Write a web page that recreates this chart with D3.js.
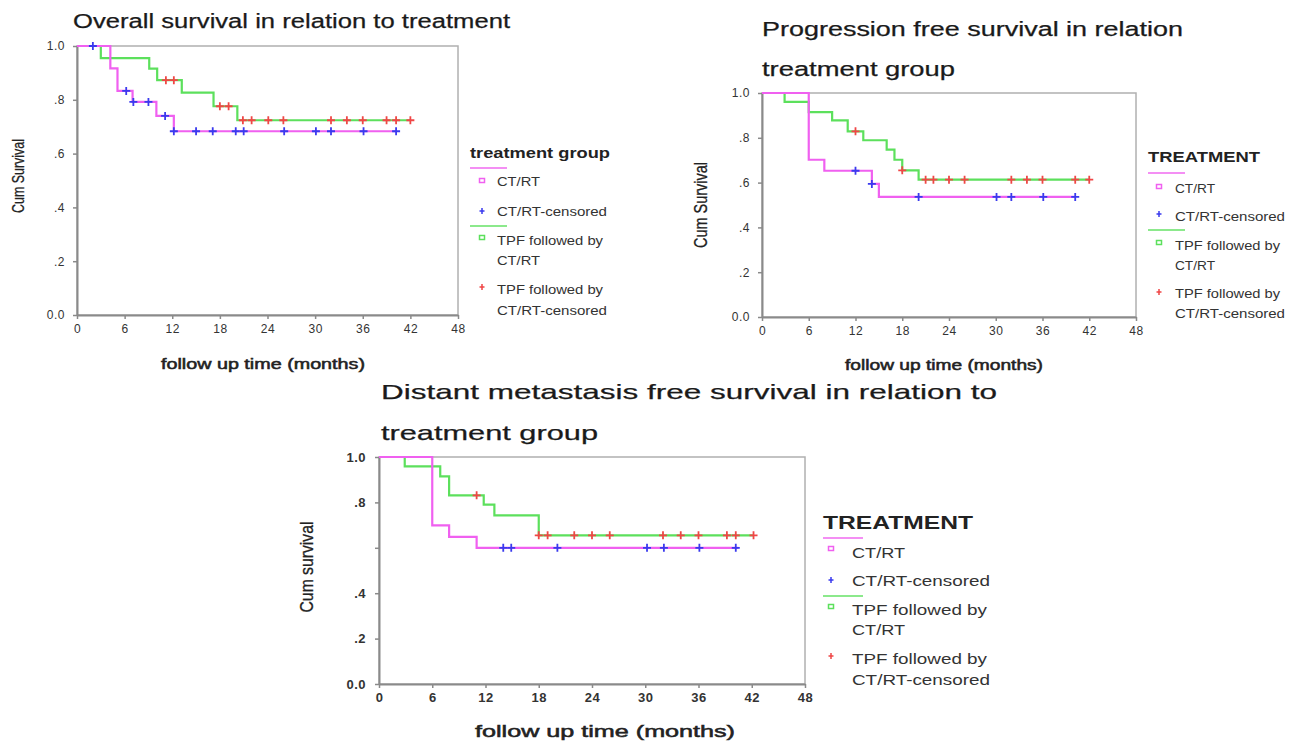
<!DOCTYPE html>
<html>
<head>
<meta charset="utf-8">
<script src="https://cdn.jsdelivr.net/npm/d3@7"></script>
<style>
  body { margin: 0; background: #fff; }
  svg { display: block; }
  text { font-family: "Liberation Sans", Arial, sans-serif; }
</style>
</head>
<body>
<svg id="chart" width="1294" height="745"></svg>
<script>
// --- tick values and labels ---
const xTicks = [0, 6, 12, 18, 24, 30, 36, 42, 48];
const yTicks = [0, 0.2, 0.4, 0.6, 0.8, 1.0];
const yTickLabels = ["0.0", ".2", ".4", ".6", ".8", "1.0"];
const yTickLabelsDm = ["0.0", ".2", ".4", "", ".8", "1.0"]; // .6 label missing in the original

const legendLabels = ["CT/RT", "CT/RT-censored", "TPF followed by", "CT/RT", "TPF followed by", "CT/RT-censored"];

// --- overall survival: [month, cum survival] step points ---
const osCtrtSteps = [[0, 1], [4.2, 0.917], [5.1, 0.833], [7, 0.792], [10, 0.74], [12.2, 0.683], [40.2, 0.683]];
const osCtrtCensored = [2, 6.2, 7.1, 9, 11.1, 12.2, 15, 17.1, 20, 21, 26.1, 30.1, 32, 36.1, 40.2];
const osTpfSteps = [[0, 1], [3, 0.955], [9.1, 0.916], [10.1, 0.873], [13.2, 0.827], [17.2, 0.776], [20.2, 0.724], [42, 0.724]];
const osTpfCensored = [11.2, 12.2, 18, 19.1, 20.9, 22, 24.1, 26, 32, 34, 36, 39, 40.2, 42];

// --- progression free survival ---
const pfsCtrtSteps = [[0, 1], [6, 0.702], [8, 0.653], [14.1, 0.594], [15, 0.536], [40.2, 0.536]];
const pfsCtrtCensored = [12, 14.1, 20.1, 30.1, 32, 36.1, 40.2];
const pfsTpfSteps = [[0, 1], [2.9, 0.96], [6, 0.915], [9, 0.878], [11, 0.829], [13, 0.789], [16, 0.747], [17, 0.702], [18, 0.655], [20.1, 0.613], [42, 0.613]];
const pfsTpfCensored = [12, 18, 21, 22, 24, 26, 32, 34, 36, 40.2, 42];

// --- distant metastasis free survival ---
const dmCtrtSteps = [[0, 1], [6, 0.699], [7.9, 0.648], [11, 0.6], [40.5, 0.6]];
const dmCtrtCensored = [14, 14.9, 20.1, 30.2, 32.1, 36.1, 40.2];
const dmTpfSteps = [[0, 1], [2.9, 0.959], [6.9, 0.915], [7.9, 0.831], [11.8, 0.79], [13, 0.743], [18, 0.655], [42.2, 0.655]];
const dmTpfCensored = [11, 18, 19, 22, 24, 26, 32, 34, 36, 39.2, 40.2, 42.2];

const colors = { ctrt: '#f060f0', tpf: '#5ce05c', ctrtCens: '#3a3aee', tpfCens: '#f04646', axis: '#8a8a8a', border: '#b0b0b0' };

const svg = d3.select('#chart');

function survAt(steps, t) {
    let v = steps[0][1];
    for (const [tt, s] of steps) if (tt <= t + 1e-9) v = s;
    return v;
}

function fitText(sel, w) {
    if (w) sel.attr('textLength', w).attr('lengthAdjust', 'spacingAndGlyphs');
    return sel;
}

function drawPanel(p) {
    const g = svg.append('g');
    const { x0, x1, yTop, yBot } = p.box;
    const x = d3.scaleLinear().domain([0, 48]).range([x0, x1]);
    const y = d3.scaleLinear().domain([0, 1]).range([yBot, yTop]);

    // frame
    g.append('rect')
        .attr('x', x0).attr('y', yTop).attr('width', x1 - x0).attr('height', yBot - yTop)
        .attr('fill', 'none').attr('stroke', colors.border).attr('stroke-width', 1.5);

    // axes
    g.append('g').attr('class', 'axis')
        .attr('transform', `translate(${x0},0)`)
        .call(d3.axisLeft(y).tickValues(yTicks).tickFormat((d, i) => p.yTickText[i])
            .tickSize(4).tickSizeOuter(0).tickPadding(p.yPad));
    g.append('g').attr('class', 'axis')
        .attr('transform', `translate(0,${yBot})`)
        .call(d3.axisBottom(x).tickValues(xTicks).tickSize(4).tickSizeOuter(0).tickPadding(p.xPad));
    g.selectAll('.axis .domain').attr('stroke', colors.axis).attr('stroke-width', 2);
    g.selectAll('.axis .tick line').attr('stroke', colors.axis).attr('stroke-width', 1.5);
    g.selectAll('.axis .tick text')
        .attr('fill', '#333')
        .style('font-size', p.tickSize + 'px')
        .style('font-weight', p.tickWeight)
        .style('font-family', '"Liberation Sans", Arial, sans-serif')
        .style('letter-spacing', p.tickSpacing + 'px');

    // survival curves
    const line = d3.line().x(d => x(d[0])).y(d => y(d[1])).curve(d3.curveStepAfter);
    g.append('path').attr('d', line(p.tpfSteps))
        .attr('fill', 'none').attr('stroke', colors.tpf).attr('stroke-width', 2.2);
    g.append('path').attr('d', line(p.ctrtSteps))
        .attr('fill', 'none').attr('stroke', colors.ctrt).attr('stroke-width', 2.2);

    // censored marks
    const plus = 'M-4,0H4M0,-4V4';
    g.selectAll('.cc').data(p.ctrtCensored).join('path')
        .attr('d', plus).attr('transform', d => `translate(${x(d)},${y(survAt(p.ctrtSteps, d))})`)
        .attr('stroke', colors.ctrtCens).attr('stroke-width', 1.8).attr('fill', 'none');
    g.selectAll('.tc').data(p.tpfCensored).join('path')
        .attr('d', plus).attr('transform', d => `translate(${x(d)},${y(survAt(p.tpfSteps, d))})`)
        .attr('stroke', colors.tpfCens).attr('stroke-width', 1.8).attr('fill', 'none');

    // titles
    p.titles.forEach(t => {
        fitText(g.append('text').attr('x', t.x).attr('y', t.y)
            .attr('fill', '#1a1a1a').attr('stroke', '#1a1a1a').attr('stroke-width', 0.25)
            .style('font-size', t.size + 'px').text(t.text), t.w);
    });

    // y axis title (condensed)
    fitText(g.append('text')
        .attr('transform', `translate(${p.yLabel.cx},${p.yLabel.cy}) rotate(-90)`)
        .attr('text-anchor', 'middle').attr('fill', '#222').attr('stroke', '#222').attr('stroke-width', 0.3)
        .style('font-size', p.yLabel.size + 'px').text(p.yLabel.text), p.yLabel.w);

    // x axis title
    fitText(g.append('text').attr('x', p.xLabel.x).attr('y', p.xLabel.y)
        .attr('fill', '#222').attr('stroke', '#222').attr('stroke-width', 0.5)
        .style('font-size', p.xLabel.size + 'px')
        .text('follow up time (months)'), p.xLabel.w);

    // legend
    const L = p.legend;
    fitText(g.append('text').attr('x', L.x).attr('y', L.titleY)
        .attr('fill', '#222').style('font-size', L.titleSize + 'px').style('font-weight', 'bold')
        .text(L.title), L.titleW);
    [[L.line1, colors.ctrt], [L.line2, colors.tpf]].forEach(([ly, c]) => {
        g.append('line').attr('x1', L.x).attr('x2', L.x + L.lineLen).attr('y1', ly).attr('y2', ly)
            .attr('stroke', c).attr('stroke-width', 2).attr('opacity', 0.7);
    });
    [[L.sq1, colors.ctrt], [L.sq2, colors.tpf]].forEach(([sy, c]) => {
        g.append('rect').attr('x', L.mx - 2.5).attr('y', sy - 2.5).attr('width', 5).attr('height', 4)
            .attr('fill', 'none').attr('stroke', c).attr('stroke-width', 1.5);
    });
    [[L.plus1, colors.ctrtCens], [L.plus2, colors.tpfCens]].forEach(([py, c]) => {
        g.append('path').attr('d', 'M-2.5,0H2.5M0,-3V3').attr('transform', `translate(${L.mx},${py})`)
            .attr('stroke', c).attr('stroke-width', 1.5);
    });
    legendLabels.forEach((s, i) => {
        fitText(g.append('text').attr('x', L.tx).attr('y', L.textY[i])
            .attr('fill', '#333').style('font-size', L.size + 'px').text(s), L.widths[i]);
    });
}

const panels = [
    {
        box: { x0: 77, x1: 458, yTop: 46, yBot: 315 },
        ctrtSteps: osCtrtSteps, ctrtCensored: osCtrtCensored,
        tpfSteps: osTpfSteps, tpfCensored: osTpfCensored,
        yTickText: yTickLabels, yPad: 8, xPad: 5, tickSize: 12, tickWeight: 'normal', tickSpacing: 0.5,
        titles: [{ text: 'Overall survival in relation to treatment', x: 73, y: 28, size: 20, w: 437 }],
        yLabel: { text: 'Cum Survival', cx: 24, cy: 176, size: 17, w: 74 },
        xLabel: { x: 161, y: 369, size: 14, w: 204 },
        legend: {
            title: 'treatment group', x: 470, titleY: 158, titleSize: 15, titleW: 140,
            lineLen: 37, line1: 168, line2: 226, mx: 482, sq1: 181, sq2: 238, plus1: 211, plus2: 287,
            tx: 497, size: 13, textY: [186, 216, 245, 265, 294, 315], widths: [43, 110, 106, 43, 106, 110]
        }
    },
    {
        box: { x0: 762, x1: 1136, yTop: 93, yBot: 317 },
        ctrtSteps: pfsCtrtSteps, ctrtCensored: pfsCtrtCensored,
        tpfSteps: pfsTpfSteps, tpfCensored: pfsTpfCensored,
        yTickText: yTickLabels, yPad: 8, xPad: 5, tickSize: 12, tickWeight: 'normal', tickSpacing: 0.5,
        titles: [
            { text: 'Progression free survival in relation', x: 762, y: 36, size: 20, w: 421 },
            { text: 'treatment group', x: 762, y: 76, size: 20, w: 193 }
        ],
        yLabel: { text: 'Cum Survival', cx: 707, cy: 205, size: 19, w: 86 },
        xLabel: { x: 845, y: 370, size: 14, w: 198 },
        legend: {
            title: 'TREATMENT', x: 1148, titleY: 162, titleSize: 15, titleW: 112,
            lineLen: 37, line1: 173, line2: 230, mx: 1159, sq1: 187, sq2: 243, plus1: 214, plus2: 292,
            tx: 1175, size: 13, textY: [193, 221, 250, 270, 298, 318], widths: [40, 110, 105, 40, 105, 110]
        }
    },
    {
        box: { x0: 379, x1: 805, yTop: 457, yBot: 684 },
        ctrtSteps: dmCtrtSteps, ctrtCensored: dmCtrtCensored,
        tpfSteps: dmTpfSteps, tpfCensored: dmTpfCensored,
        yTickText: yTickLabelsDm, yPad: 9, xPad: 5, tickSize: 13, tickWeight: 'bold', tickSpacing: 0.5,
        titles: [
            { text: 'Distant metastasis free survival in relation to', x: 381, y: 399, size: 21, w: 616 },
            { text: 'treatment group', x: 381, y: 440, size: 21, w: 217 }
        ],
        yLabel: { text: 'Cum survival', cx: 313, cy: 567, size: 19, w: 91 },
        xLabel: { x: 475, y: 737, size: 16, w: 260 },
        legend: {
            title: 'TREATMENT', x: 823, titleY: 529, titleSize: 18, titleW: 150,
            lineLen: 40, line1: 538, line2: 596, mx: 831, sq1: 549, sq2: 607, plus1: 580, plus2: 656,
            tx: 852, size: 15, textY: [558, 586, 615, 635, 664, 685], widths: [53, 138, 135, 53, 135, 138]
        }
    }
];

panels.forEach(drawPanel);
</script>
</body>
</html>
